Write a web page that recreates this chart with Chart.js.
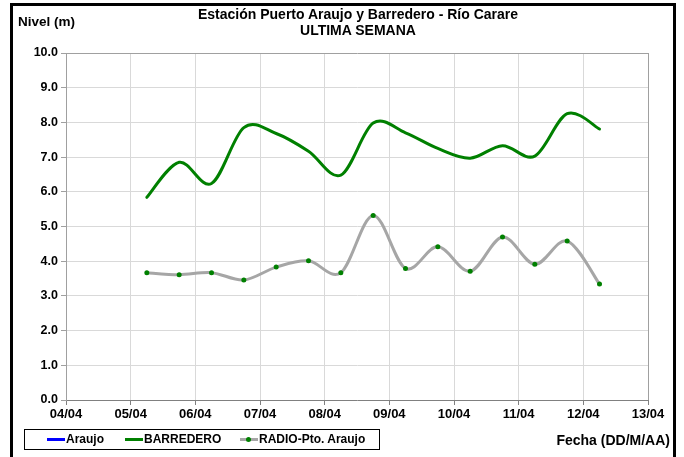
<!DOCTYPE html>
<html><head><meta charset="utf-8">
<script src="https://cdn.jsdelivr.net/npm/chart.js@4/dist/chart.umd.min.js"></script>
<style>
html,body{margin:0;padding:0;background:#fff}
body{width:684px;height:457px;overflow:hidden;position:relative;font-family:"Liberation Sans",Arial,sans-serif}
#frame{position:absolute;left:10px;top:3px;width:660px;height:520px;border:3px solid #000;box-sizing:content-box}
#c{position:absolute;left:0;top:0}
.t{position:absolute;font-weight:bold;color:#000;white-space:nowrap;line-height:16px}
#legend{position:absolute;left:24px;top:429px;width:356px;height:21px;border:1px solid #000;box-sizing:border-box}
.li{position:absolute;top:0;height:19px}
.sw{position:absolute;top:8px;height:3px;width:18px}
.lt{position:absolute;top:2px;left:19px;font-weight:bold;font-size:12px;line-height:15px;white-space:nowrap}
.dot{position:absolute;left:6px;top:-1px;width:5px;height:5px;border-radius:50%;background:#008000}
</style></head>
<body>
<div id="frame"></div>
<canvas id="c" width="684" height="457"></canvas>
<div class="t" style="left:158px;top:6px;width:400px;text-align:center;font-size:14px">Estación Puerto Araujo y Barredero - Río Carare<br>ULTIMA SEMANA</div>
<div class="t" style="left:18px;top:14px;font-size:13.5px">Nivel (m)</div>
<div class="t" style="right:14px;top:432px;font-size:14px">Fecha (DD/M/AA)</div>
<div id="legend"></div>
<script>
// Tick labels for the x axis (days from 04/04)
const dayLabels = ['04/04','05/04','06/04','07/04','08/04','09/04','10/04','11/04','12/04','13/04'];
// Sample times, in days after 04/04 00:00
const sampleDays = [1.25,1.75,2.25,2.75,3.25,3.75,4.25,4.75,5.25,5.75,6.25,6.75,7.25,7.75,8.25];
// Series values (m)
const araujo = [];
const barredero = [5.84,6.85,6.24,7.85,7.68,7.17,6.48,7.98,7.70,7.25,6.97,7.33,7.03,8.25,7.81];
const radio = [3.67,3.61,3.67,3.46,3.83,4.01,3.67,5.32,3.79,4.42,3.71,4.70,3.91,4.58,3.34];
const seriesNames = ['Araujo','BARREDERO','RADIO-Pto. Araujo'];
const yTicks = [0,1,2,3,4,5,6,7,8,9,10];

const toPts = arr => arr.map((v,i)=>({x:sampleDays[i], y:v}));
const fam = '"Liberation Sans", Arial, sans-serif';

// Spreadsheet-style (uniform Catmull-Rom) smoothing of the library's bezier control points
const spreadsheetSmooth = {
  id:'spreadsheetSmooth',
  beforeDatasetDraw(chart, args){
    const meta = args.meta, line = meta.dataset, pts = meta.data;
    if (!line || !pts || pts.length < 2) return;
    line.updateControlPoints(chart.chartArea);
    const n = pts.length;
    for (let i=0;i<n;i++){
      const p = pts[i], a = pts[Math.max(i-1,0)], b = pts[Math.min(i+1,n-1)];
      const dx = (b.x - a.x)/6, dy = (b.y - a.y)/6;
      p.cp1x = p.x - dx; p.cp1y = p.y - dy;
      p.cp2x = p.x + dx; p.cp2y = p.y + dy;
    }
  }
};

const chart = new Chart(document.getElementById('c'), {
  type:'line',
  data:{datasets:[
    {label:seriesNames[0], data:toPts(araujo), borderColor:'#0000ff', backgroundColor:'#0000ff', borderWidth:3, pointRadius:0, tension:0.4},
    {label:seriesNames[1], data:toPts(barredero), borderColor:'#008000', backgroundColor:'#008000', borderWidth:3, pointRadius:0, tension:0.4},
    {label:seriesNames[2], data:toPts(radio), borderColor:'#a6a6a6', backgroundColor:'#008000', borderWidth:3, pointRadius:2.5, pointBorderWidth:0, pointBackgroundColor:'#008000', tension:0.4}
  ]},
  plugins:[spreadsheetSmooth],
  options:{
    responsive:false, animation:false, devicePixelRatio:1,
    layout:{padding:{left:0,right:36,top:53,bottom:0}},
    elements:{line:{capBezierPoints:false, borderCapStyle:'round', borderJoinStyle:'round'}},
    plugins:{legend:{display:false}, title:{display:false}, tooltip:{enabled:false}},
    scales:{
      x:{type:'linear', min:0, max:9,
        afterFit(s){ s.height = 57; },
        afterBuildTicks(s){ s.ticks = dayLabels.map((l,i)=>({value:i})); },
        ticks:{stepSize:1, autoSkip:false, maxRotation:0, color:'#000', font:{family:fam,size:13,weight:'bold'}, padding:2,
          callback:(v)=>dayLabels[v]},
        grid:{color:c=> (c.tick && c.tick.value===9) ? '#a0a0a0' : '#d9d9d9', tickColor:'#808080', tickLength:5, lineWidth:1},
        border:{color:'#808080', width:1}
      },
      y:{min:0, max:10,
        afterFit(s){ s.width = 66; },
        afterBuildTicks(s){ s.ticks = yTicks.map(v=>({value:v})); },
        ticks:{color:'#000', font:{family:fam,size:12.5,weight:'bold'}, padding:3, callback:v=>Number(v).toFixed(1)},
        grid:{color:c=> (c.tick && c.tick.value===10) ? '#a0a0a0' : '#d9d9d9', tickColor:'#a0a0a0', tickLength:5, lineWidth:1},
        border:{color:'#a0a0a0', width:1}
      }
    }
  }
});

// HTML legend built from the datasets
const lg = document.getElementById('legend');
const itemLeft = [22, 100, 215];
chart.data.datasets.forEach((ds,i)=>{
  const it = document.createElement('div'); it.className='li'; it.style.left = itemLeft[i]+'px';
  const sw = document.createElement('div'); sw.className='sw'; sw.style.background = ds.borderColor;
  if (i===2){ const d=document.createElement('div'); d.className='dot'; sw.appendChild(d); }
  const tx = document.createElement('div'); tx.className='lt'; tx.textContent = ds.label;
  it.appendChild(sw); it.appendChild(tx); lg.appendChild(it);
});
</script>
</body></html>
